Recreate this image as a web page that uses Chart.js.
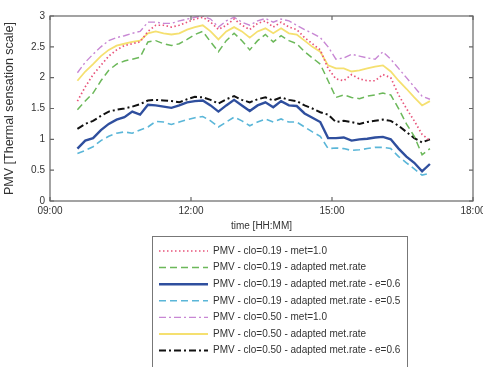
<!doctype html>
<html lang="en">
  <head>
    <meta charset="utf-8">
    <title>PMV</title>
    <style>
      * { margin: 0; padding: 0; }
      body { background: #fff; }
      .chartBox { width: 483px; height: 367px; }
    </style>
  </head>
  <body>
    <div class="chartBox">
      <canvas id="myChart" width="483" height="367"></canvas>
    </div>

    <script src="https://cdn.jsdelivr.net/npm/chart.js"></script>
    <script>
// sample times (HH:MM)
const times = ['09:35','09:45','09:55','10:05','10:15','10:25','10:35','10:45','10:55','11:05',
  '11:15','11:25','11:35','11:45','11:55','12:05','12:15','12:25','12:35','12:45',
  '12:55','13:05','13:15','13:25','13:35','13:45','13:55','14:05','14:15','14:25',
  '14:35','14:45','14:55','15:05','15:15','15:25','15:35','15:45','15:55','16:05',
  '16:15','16:25','16:35','16:45','16:55','17:05'];

const clo19Met1 = [1.62,1.85,2.05,2.20,2.35,2.45,2.52,2.55,2.58,2.75,2.85,2.85,2.82,2.85,2.90,2.95,2.98,2.90,2.78,2.85,
  2.95,2.85,2.78,2.88,2.92,2.82,2.90,2.82,2.78,2.65,2.55,2.45,2.15,1.98,1.95,2.05,1.98,1.95,1.95,2.05,
  2.00,1.72,1.50,1.30,1.08,0.98];
const clo19Adapted = [1.48,1.62,1.75,1.95,2.12,2.22,2.27,2.30,2.33,2.58,2.60,2.55,2.52,2.55,2.62,2.70,2.75,2.58,2.42,2.60,
  2.72,2.60,2.45,2.60,2.70,2.58,2.68,2.60,2.55,2.42,2.32,2.22,1.95,1.68,1.72,1.68,1.66,1.70,1.72,1.75,
  1.72,1.50,1.25,1.05,0.75,0.85];
const clo19E06 = [0.85,0.98,1.02,1.15,1.25,1.32,1.36,1.45,1.40,1.56,1.55,1.53,1.51,1.55,1.60,1.62,1.63,1.55,1.45,1.55,
  1.64,1.55,1.46,1.55,1.60,1.52,1.62,1.55,1.54,1.42,1.35,1.28,1.02,1.02,1.03,0.98,1.00,1.01,1.03,1.04,
  1.00,0.85,0.72,0.62,0.48,0.60];
const clo19E05 = [0.77,0.82,0.88,0.98,1.05,1.10,1.12,1.10,1.15,1.20,1.29,1.28,1.24,1.28,1.32,1.35,1.37,1.30,1.20,1.28,
  1.36,1.30,1.22,1.28,1.33,1.28,1.33,1.28,1.28,1.20,1.12,1.05,0.85,0.86,0.85,0.82,0.83,0.85,0.87,0.87,
  0.85,0.72,0.62,0.52,0.42,0.45];
const clo50Met1 = [2.08,2.25,2.38,2.50,2.60,2.65,2.68,2.72,2.75,2.90,2.90,2.88,2.88,2.92,2.95,2.98,3.00,2.95,2.82,2.92,
  2.98,2.90,2.85,2.92,2.96,2.90,2.95,2.92,2.85,2.78,2.72,2.65,2.50,2.30,2.32,2.38,2.35,2.32,2.30,2.42,
  2.30,2.15,2.00,1.85,1.70,1.65];
const clo50Adapted = [1.95,2.10,2.22,2.35,2.45,2.52,2.55,2.58,2.60,2.72,2.75,2.72,2.70,2.72,2.78,2.82,2.85,2.75,2.62,2.75,
  2.82,2.75,2.65,2.75,2.80,2.72,2.80,2.72,2.70,2.60,2.50,2.42,2.20,2.15,2.15,2.10,2.12,2.15,2.18,2.20,
  2.10,1.95,1.82,1.68,1.55,1.62];
const clo50E06 = [1.17,1.25,1.30,1.38,1.45,1.48,1.50,1.53,1.57,1.63,1.64,1.63,1.62,1.60,1.65,1.69,1.68,1.64,1.58,1.65,
  1.70,1.64,1.60,1.65,1.68,1.63,1.68,1.64,1.62,1.55,1.50,1.44,1.40,1.28,1.30,1.28,1.25,1.28,1.30,1.32,
  1.30,1.22,1.12,1.02,0.95,1.00];

const seriesLabels = [
  'PMV - clo=0.19 - met=1.0',
  'PMV - clo=0.19 - adapted met.rate',
  'PMV - clo=0.19 - adapted met.rate - e=0.6',
  'PMV - clo=0.19 - adapted met.rate - e=0.5',
  'PMV - clo=0.50 - met=1.0',
  'PMV - clo=0.50 - adapted met.rate',
  'PMV - clo=0.50 - adapted met.rate - e=0.6'
];

const xTicks = [9, 12, 15, 18];
const xTickLabels = ['09:00', '12:00', '15:00', '18:00'];
const yTicks = [0, 0.5, 1, 1.5, 2, 2.5, 3];
const yTickLabels = ['0', '0.5', '1', '1.5', '2', '2.5', '3'];

const FONT = '"Liberation Sans", Arial, sans-serif';

function toHours(t) {
  const p = t.split(':');
  return +p[0] + (+p[1]) / 60;
}

function pts(values) {
  return values.map((v, i) => ({ x: toHours(times[i]), y: v }));
}

function line(label, values, color, width, dash) {
  return {
    label: label,
    data: pts(values),
    borderColor: color,
    backgroundColor: color,
    borderWidth: width,
    borderDash: dash,
    pointRadius: 0,
    tension: 0,
    fill: false
  };
}

const data = {
  datasets: [
    line(seriesLabels[0], clo19Met1, '#e8537a', 1.7, [1.5, 2.5]),
    line(seriesLabels[1], clo19Adapted, '#6cb85a', 1.5, [7, 4]),
    line(seriesLabels[2], clo19E06, '#2f4f9e', 2.4, []),
    line(seriesLabels[3], clo19E05, '#5ab6d8', 1.6, [7, 4]),
    line(seriesLabels[4], clo50Met1, '#c887d4', 1.4, [7, 3, 2, 3]),
    line(seriesLabels[5], clo50Adapted, '#f5e070', 1.8, []),
    line(seriesLabels[6], clo50E06, '#111111', 2, [7, 3, 2, 3])
  ]
};

// frame, inward ticks and boxed legend like the original figure
const framePlugin = {
  id: 'frame',
  afterDraw(chart) {
    const c = chart.ctx;
    const a = chart.chartArea;
    const xs = chart.scales.x, ys = chart.scales.y;
    c.save();
    c.strokeStyle = '#666';
    c.lineWidth = 1.2;
    c.setLineDash([]);
    c.strokeRect(a.left, a.top, a.right - a.left, a.bottom - a.top);
    c.beginPath();
    xTicks.forEach(v => {
      const px = xs.getPixelForValue(v);
      c.moveTo(px, a.bottom); c.lineTo(px, a.bottom - 4);
      c.moveTo(px, a.top); c.lineTo(px, a.top + 4);
    });
    yTicks.forEach(v => {
      const py = ys.getPixelForValue(v);
      c.moveTo(a.left, py); c.lineTo(a.left + 4, py);
      c.moveTo(a.right, py); c.lineTo(a.right - 4, py);
    });
    c.stroke();

    // legend
    const bx = 152.5, by = 236.5, bw = 255, bh = 140;
    c.strokeStyle = '#777';
    c.lineWidth = 1;
    c.strokeRect(bx, by, bw, bh);
    c.font = '10px ' + FONT;
    c.textBaseline = 'middle';
    chart.data.datasets.forEach((ds, i) => {
      const y = 251 + i * 16.6;
      c.strokeStyle = ds.borderColor;
      c.lineWidth = ds.borderWidth;
      c.setLineDash(ds.borderDash);
      c.beginPath();
      c.moveTo(159, y); c.lineTo(208, y);
      c.stroke();
      c.setLineDash([]);
      c.fillStyle = '#333';
      c.fillText(ds.label, 213, y);
    });
    c.restore();
  }
};

const config = {
  type: 'line',
  data,
  options: {
    responsive: false,
    animation: false,
    layout: { padding: { left: 0, right: 10, top: 16, bottom: 134 } },
    plugins: {
      legend: { display: false },
      tooltip: { enabled: false }
    },
    scales: {
      x: {
        type: 'linear',
        min: 9,
        max: 18,
        afterBuildTicks: s => { s.ticks = xTicks.map(v => ({ value: v })); },
        afterFit: s => { s.height = 32; s.paddingLeft = 0; s.paddingRight = 0; },
        grid: { display: false, drawTicks: false },
        border: { display: false },
        ticks: {
          maxRotation: 0,
          autoSkip: false,
          padding: 4,
          color: '#333',
          font: { family: FONT, size: 10 },
          callback: v => xTickLabels[xTicks.indexOf(v)]
        },
        title: {
          display: true,
          text: 'time [HH:MM]',
          color: '#333',
          font: { family: FONT, size: 10 },
          padding: { top: 0, bottom: 1 }
        }
      },
      y: {
        min: 0,
        max: 3,
        afterBuildTicks: s => { s.ticks = yTicks.map(v => ({ value: v })); },
        afterFit: s => { s.width = 50; },
        grid: { display: false, drawTicks: false },
        border: { display: false },
        ticks: {
          padding: 5,
          color: '#333',
          font: { family: FONT, size: 10 },
          callback: v => yTickLabels[yTicks.indexOf(v)]
        },
        title: {
          display: true,
          text: 'PMV [Thermal sensation scale]',
          color: '#333',
          font: { family: FONT, size: 12.5 },
          padding: { top: 2, bottom: 0 }
        }
      }
    }
  },
  plugins: [framePlugin]
};

const myChart = new Chart(document.getElementById('myChart'), config);
    </script>
  </body>
</html>
